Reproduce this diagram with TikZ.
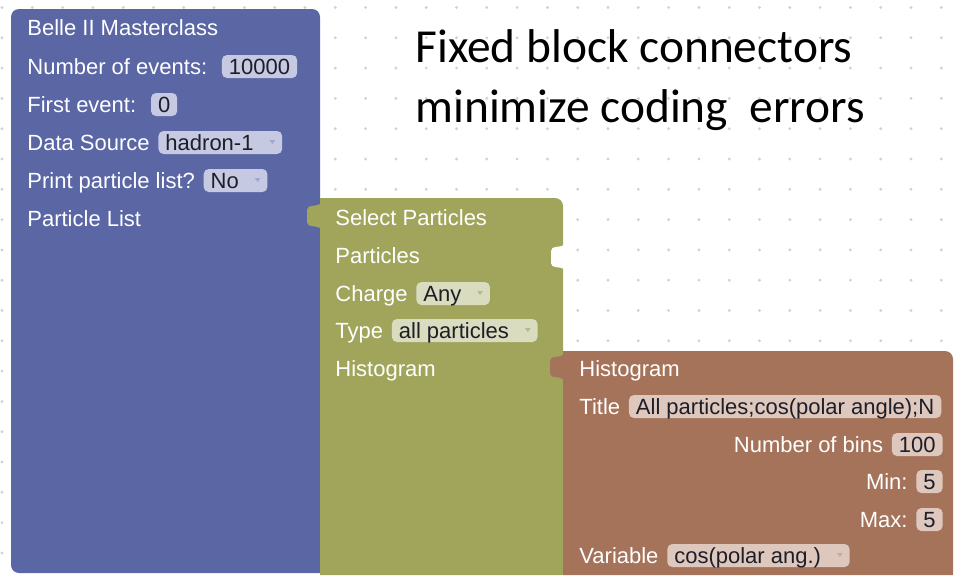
\documentclass[tikz,border=0pt]{standalone}
\usepackage{fontspec}
\setmainfont{Liberation Sans}
\newfontfamily\headfont{Carlito}
\usetikzlibrary{positioning}
\definecolor{blockblue}{HTML}{5B67A5}
\definecolor{blockgreen}{HTML}{A0A55B}
\definecolor{blockbrown}{HTML}{A5735A}
\definecolor{fieldblue}{HTML}{C6C9E2}
\definecolor{fieldgreen}{HTML}{D9DCBE}
\definecolor{fieldbrown}{HTML}{DEC7BC}
\definecolor{arrowblue}{HTML}{9DA3CB}
\definecolor{arrowgreen}{HTML}{B2B687}
\definecolor{arrowbrown}{HTML}{C4A89C}
\definecolor{dotgrey}{HTML}{D2D2D2}
\definecolor{fieldtext}{HTML}{1E1E28}

% small dropdown triangle
\newcommand{\ddarrow}[1]{\hspace{8pt}\tikz[baseline=0pt]\fill[#1] (0pt,5pt) -- (2.8pt,5pt) -- (1.4pt,3pt) -- cycle;\hspace{3.5pt}}
% puzzle tab: colour, edge x, top y (pixels)
\newcommand{\puzzletab}[3]{\fill[#1] (#2,#3) .. controls +(-4,3) and +(0,-6) .. ++(-13,6) -- ++(0,12) .. controls +(0,6) and +(-4,-3) .. ++(13,6) -- cycle;}

\begin{document}
\begin{tikzpicture}[
  x=0.5pt, y=-0.5pt,
  lbl/.style={text=white, inner sep=0pt, text height=8pt, text depth=0.5pt,
    font=\fontsize{11}{13}\selectfont},
  field/.style={rounded corners=2.5pt, inner xsep=3.5pt, inner ysep=1.5pt,
    text height=8pt, text depth=0.5pt, text=fieldtext,
    font=\fontsize{11}{13}\selectfont},
  bluefield/.style={field, fill=fieldblue},
  greenfield/.style={field, fill=fieldgreen},
  brownfield/.style={field, fill=fieldbrown},
  headline/.style={inner sep=0pt, text=black,
    font=\headfont\fontsize{23.7}{30}\selectfont},
]
\useasboundingbox (0,0) rectangle (961,575);

% === Workspace dots ===
\foreach \i in {0,...,31}
  \foreach \j in {0,...,18}
    \fill[dotgrey] (2+30.3*\i,7.5+30.3*\j) circle (0.8pt);

% === Headline ===
\node[headline, anchor=base west] (head1) at (415,62) {Fixed block connectors};
\node[headline, anchor=base west] (head2) at (415,122) {minimize coding\ \ errors};

% === Blocks ===
\fill[blockblue] (320,573) [rounded corners=4pt] -- (11,573) -- (11,9) -- (320,9) [sharp corners] -- cycle;
\fill[blockgreen] (320,575) -- (320,198) [rounded corners=4pt] -- (563,198) [sharp corners] -- (563,575) -- cycle;
\puzzletab{blockgreen}{320}{204}
\puzzletab{white}{564}{245}
\fill[blockbrown] (563,575) -- (563,351) [rounded corners=4pt] -- (953,351) [sharp corners] -- (953,575) -- cycle;
\puzzletab{blockbrown}{563}{355}

% === Belle II Masterclass ===
\node[lbl, anchor=base west] (master) at (27,35) {Belle II Masterclass};
\node[lbl, anchor=base west] (nevents) at (27,74) {Number of events:};
\node[bluefield, base right=7pt of nevents] (neventsval) {10000};
\node[lbl, anchor=base west] (first) at (27,112) {First event:};
\node[bluefield, base right=7pt of first] (firstval) {0};
\node[lbl, anchor=base west] (source) at (27,150) {Data Source};
\node[bluefield, base right=4pt of source] (sourceval) {hadron-1\ddarrow{arrowblue}};
\node[lbl, anchor=base west] (print) at (27,188) {Print particle list?};
\node[bluefield, base right=4pt of print] (printval) {No\ddarrow{arrowblue}};
\node[lbl, anchor=base west] (plist) at (27,226) {Particle List};

% === Select Particles ===
\node[lbl, anchor=base west] (select) at (335,225) {Select Particles};
\node[lbl, anchor=base west] (particles) at (335,263) {Particles};
\node[lbl, anchor=base west] (charge) at (335,301) {Charge};
\node[greenfield, base right=4pt of charge] (chargeval) {Any\ddarrow{arrowgreen}};
\node[lbl, anchor=base west] (type) at (335,338) {Type};
\node[greenfield, base right=4pt of type] (typeval) {all particles\ddarrow{arrowgreen}};
\node[lbl, anchor=base west] (histout) at (335,376) {Histogram};

% === Histogram ===
\node[lbl, anchor=base west] (histin) at (579,376) {Histogram};
\node[lbl, anchor=base west] (htitle) at (579,414) {Title};
\node[brownfield, base right=4pt of htitle] (htitleval) {All particles;cos(polar angle);N};
\node[brownfield, anchor=base east] (nbinsval) at (943,452) {100};
\node[lbl, base left=4pt of nbinsval] (nbins) {Number of bins};
\node[brownfield, anchor=base east] (minval) at (943,489) {5};
\node[lbl, base left=4pt of minval] (hmin) {Min:};
\node[brownfield, anchor=base east] (maxval) at (943,527) {5};
\node[lbl, base left=4pt of maxval] (hmax) {Max:};
\node[lbl, anchor=base west] (variable) at (579,563) {Variable};
\node[brownfield, base right=4pt of variable] (variableval) {cos(polar ang.)\ddarrow{arrowbrown}};
\end{tikzpicture}
\end{document}
